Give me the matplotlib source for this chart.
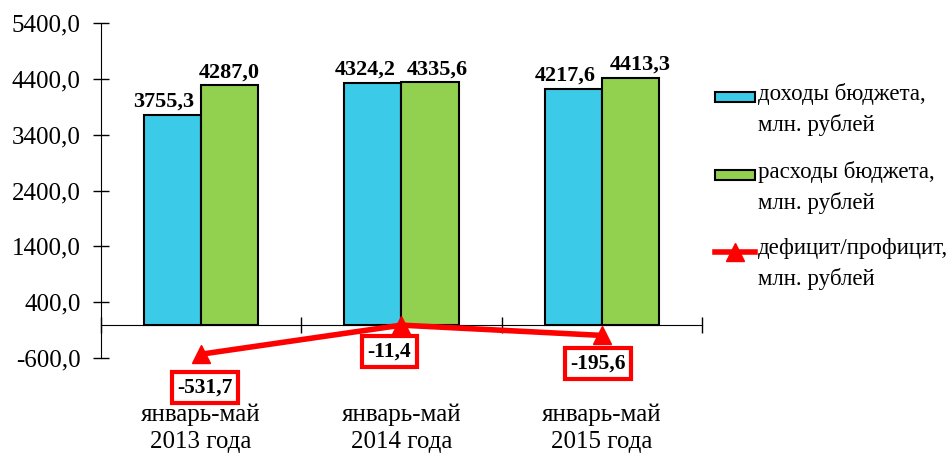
import numpy as np
import matplotlib
matplotlib.use("Agg")
import matplotlib.pyplot as plt
from matplotlib.patches import Rectangle
from matplotlib.lines import Line2D

plt.rcParams["font.family"] = ["Liberation Serif", "DejaVu Serif"]

categories = ["январь-май\n2013 года", "январь-май\n2014 года", "январь-май\n2015 года"]
income = [3755.3, 4324.2, 4217.6]          # доходы бюджета
expenses = [4287.0, 4335.6, 4413.3]        # расходы бюджета
balance = [-531.7, -11.4, -195.6]          # дефицит/профицит
series_names = ["доходы бюджета,\nмлн. рублей", "расходы бюджета,\nмлн. рублей",
                "дефицит/профицит,\nмлн. рублей"]
y_ticks = [-600, 400, 1400, 2400, 3400, 4400, 5400]

blue = "#3BCBE8"
green = "#92D050"
red = "#FF0000"

def fmt(v):
    return "{:.1f}".format(v).replace(".", ",")

W, H = 953, 457
fig = plt.figure(figsize=(W / 100, H / 100), dpi=100)
ax = fig.add_axes([101 / W, 1 - 358 / H, 601 / W, 335 / H])

x = np.arange(len(categories))
w = 0.285
b1 = ax.bar(x - w / 2, income, w, color=blue, edgecolor="black", linewidth=1.5, zorder=2)
b2 = ax.bar(x + w / 2, expenses, w, color=green, edgecolor="black", linewidth=1.5, zorder=2)
ax.plot(x, balance, color=red, lw=4, marker="^", markersize=13, zorder=4, clip_on=False)

# labels are nudged sideways a little so neighbours don't collide (like excel does)
shifts = [[-9, -8, -8], [0, 7, 10]]
for bars, vals, sh in [(b1, income, shifts[0]), (b2, expenses, shifts[1])]:
    for r, v, s in zip(bars, vals, sh):
        ax.annotate(fmt(v), (r.get_x() + r.get_width() / 2, v), xytext=(s, 3), textcoords="offset pixels",
                    ha="center", va="bottom", fontsize=16, fontweight="bold")

offsets = [(4, -33), (-12, -26), (-4, -28)]                 # where the red boxes sit relative to points
for xi, v, off in zip(x, balance, offsets):
    ax.annotate(fmt(v), (xi, v), xytext=off, textcoords="offset pixels", ha="center", va="center",
                fontsize=15.5, fontweight="bold", zorder=5,
                bbox=dict(boxstyle="square,pad=0.25", fc="white", ec=red, lw=3))

for xi, c in zip(x, categories):
    ax.text(xi, -0.21, c, transform=ax.get_xaxis_transform(), ha="center", va="center",
            fontsize=18, linespacing=1.3)

ax.set_xlim(-0.5, 2.5)
ax.set_ylim(-600, 5400)
ax.set_yticks(y_ticks)
ax.set_yticklabels([fmt(t) for t in y_ticks], fontsize=18)
ax.set_xticks([-0.5, 0.5, 1.5, 2.5])
ax.set_xticklabels([])
ax.spines["bottom"].set_position(("data", 0))
ax.spines["top"].set_visible(False)
ax.spines["right"].set_visible(False)
ax.tick_params(axis="y", direction="inout", length=11, width=1, pad=9)
ax.tick_params(axis="x", direction="inout", length=11.5, width=1)

# legend drawn by hand: handle sits at the first line of each two-line label
leg_y = [97, 175, 252]
for i, (name, yy) in enumerate(zip(series_names, leg_y)):
    fy = 1 - yy / H
    if i < 2:
        fig.add_artist(Rectangle((715 / W, 1 - (yy + 5) / H), 40 / W, 10 / H, transform=fig.transFigure,
                                 fc=[blue, green][i], ec="black", lw=1.5))
    else:
        fig.add_artist(Line2D([715 / W, 755 / W], [fy, fy], transform=fig.transFigure, color=red, lw=4))
        fig.add_artist(Line2D([735 / W], [fy], transform=fig.transFigure, color=red, marker="^", markersize=13))
    fig.text(758 / W, 1 - (yy - 14) / H, name, ha="left", va="top", fontsize=16.5, linespacing=1.5)

fig.savefig("out.png", dpi=100)
